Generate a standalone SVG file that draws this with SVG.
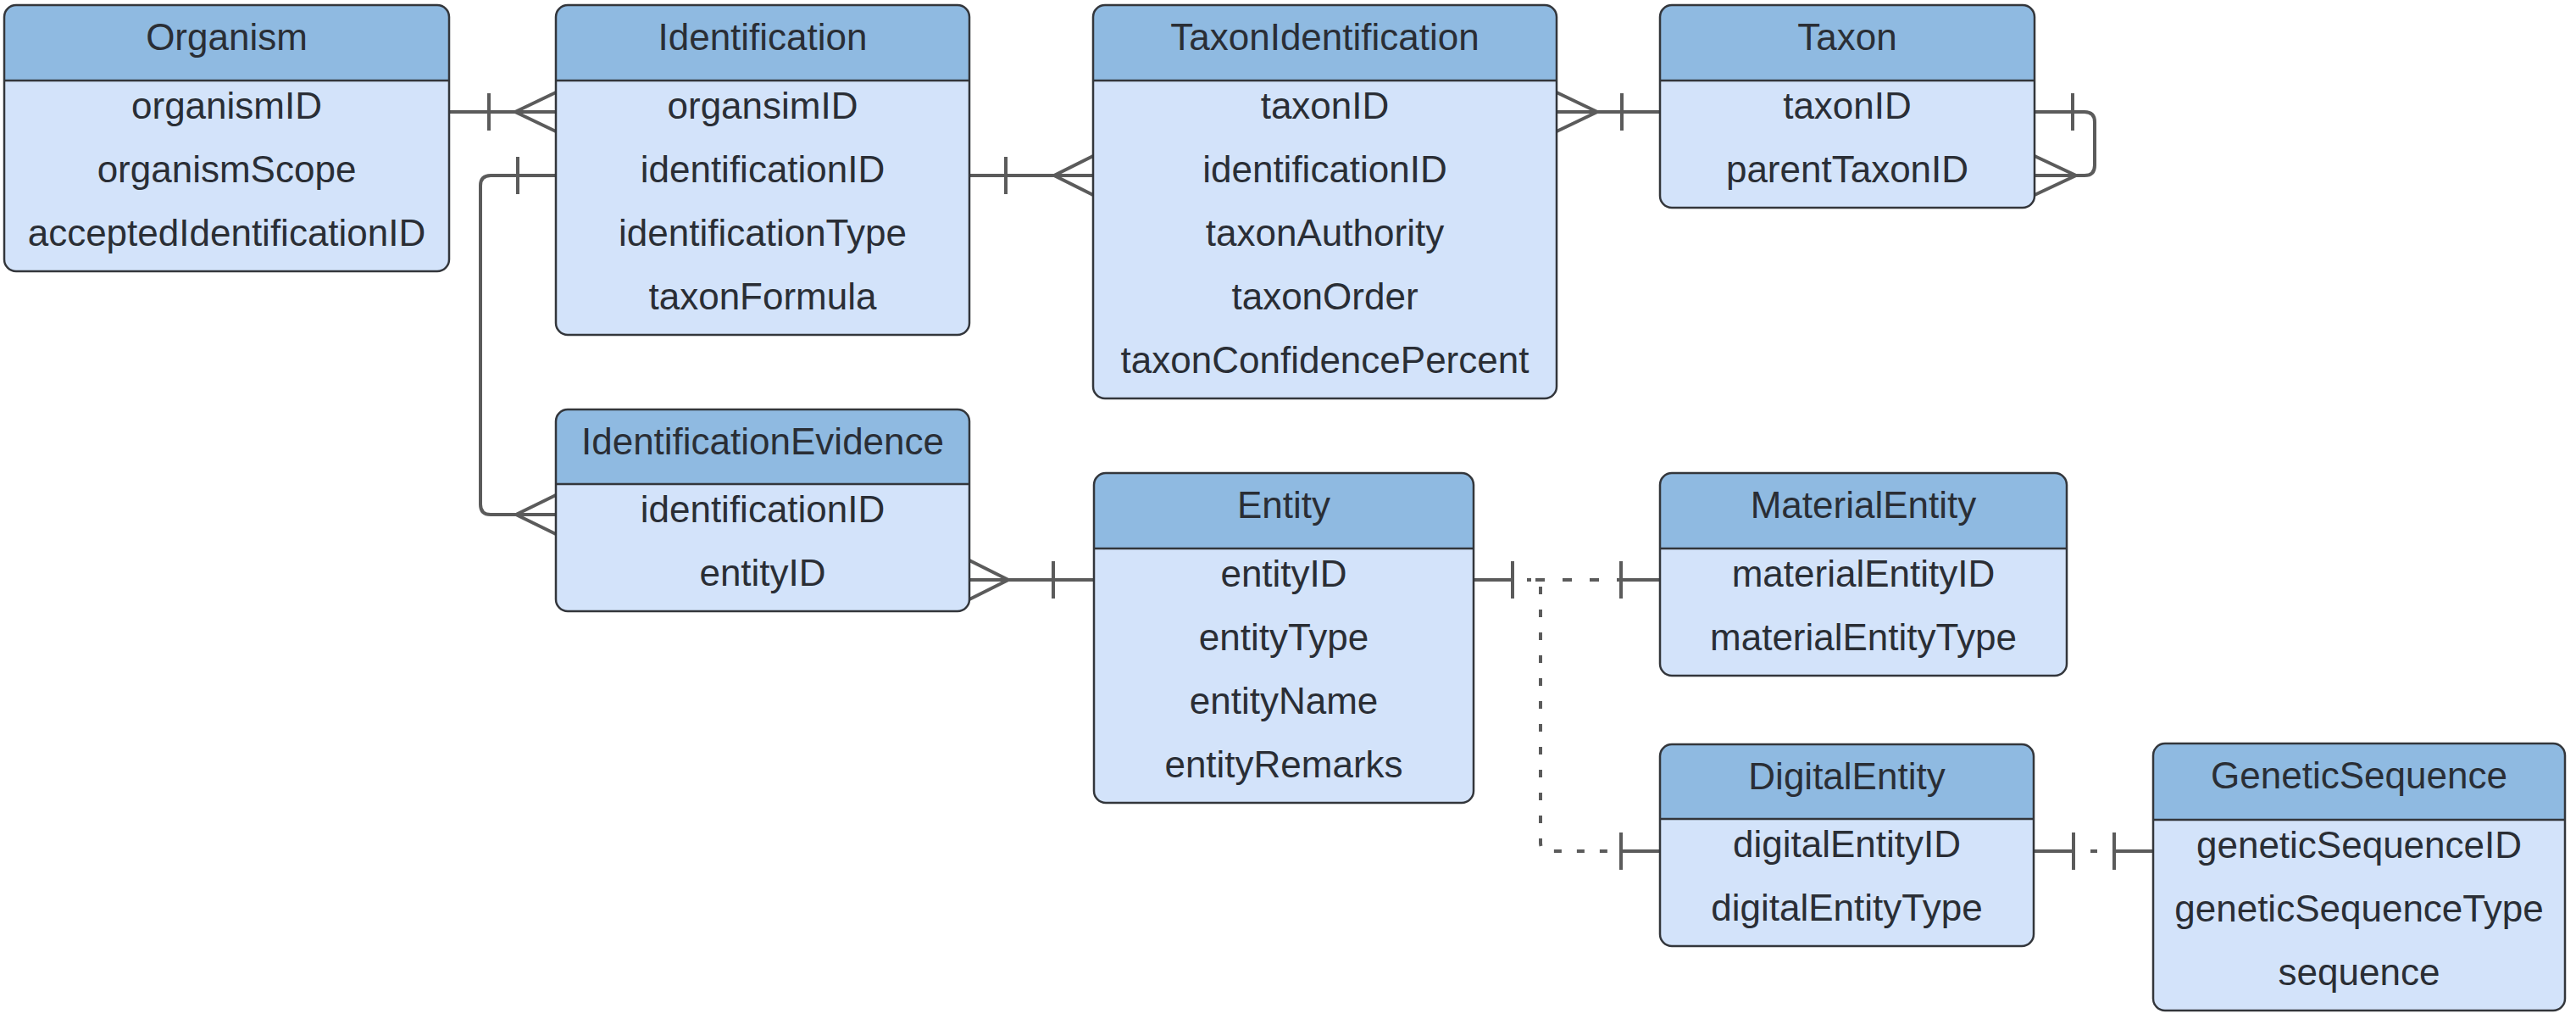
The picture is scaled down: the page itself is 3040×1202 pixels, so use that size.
<svg xmlns="http://www.w3.org/2000/svg" width="3040" height="1202" viewBox="0 0 3040 1202">
<style>
.body{fill:#d3e3fa;stroke:none}
.hd{fill:#8fbae1;stroke:none}
.frame{fill:none;stroke:#33363b;stroke-width:2.5}
.sep{stroke:#33363b;stroke-width:2.5}
text{font-family:"Liberation Sans",Arial,sans-serif;font-size:44px;fill:#2a2e35;text-anchor:middle}
.c{fill:none;stroke:#5b5b5b;stroke-width:4;stroke-linejoin:round}
.d{fill:none;stroke:#5b5b5b;stroke-width:4}
</style>
<rect width="3040" height="1202" fill="#ffffff"/>

<g id="connectors">
  <!-- Organism - Identification -->
  <path class="c" d="M530,132 H656 M577,110 V154 M656,109 L608,132 L656,155"/>
  <!-- Identification - IdentificationEvidence -->
  <path class="c" d="M656,207 H579 Q567,207 567,219 V595 Q567,607 579,607 H656 M611,185 V229 M656,584 L609,607 L656,630"/>
  <!-- Identification - TaxonIdentification -->
  <path class="c" d="M1144,207 H1290 M1187,185 V229 M1290,184 L1244,207 L1290,230"/>
  <!-- TaxonIdentification - Taxon -->
  <path class="c" d="M1837,132 H1959 M1837,109 L1885,132 L1837,155 M1914,110 V154"/>
  <!-- Taxon self -->
  <path class="c" d="M2401,132 H2460 Q2472,132 2472,144 V195 Q2472,207 2460,207 H2401 M2446,110 V154 M2401,184 L2450,207 L2401,230"/>
  <!-- IdentificationEvidence - Entity -->
  <path class="c" d="M1144,684 H1291 M1144,661 L1190,684 L1144,707 M1243,662 V706"/>
  <!-- Entity - MaterialEntity -->
  <path class="c" d="M1739,684 H1785 M1785,662 V706 M1913,662 V706 M1913,684 H1959"/>
  <path class="d" stroke-dasharray="11 21" d="M1812,684 H1913"/>
  <path class="d" d="M1802,684 H1807"/>
  <!-- Entity - DigitalEntity -->
  <path class="d" stroke-dasharray="9 18" d="M1818,692 V994 Q1818,1004 1828,1004 H1913"/>
  <path class="c" d="M1913,982 V1026 M1913,1004 H1959"/>
  <!-- DigitalEntity - GeneticSequence -->
  <path class="c" d="M2400,1004 H2447 M2447,982 V1026 M2495,982 V1026 M2495,1004 H2541"/>
  <path class="d" d="M2467,1004 H2475"/>
</g>

<g id="organism">
  <rect class="body" x="5" y="6" width="525" height="314" rx="14"/>
  <path class="hd" d="M5,95 V20 A14,14 0 0 1 19,6 H516 A14,14 0 0 1 530,20 V95 Z"/>
  <line class="sep" x1="5" y1="95" x2="530" y2="95"/>
  <rect class="frame" x="5" y="6" width="525" height="314" rx="14"/>
  <text x="267.5" y="59">Organism</text>
  <text x="267.5" y="140">organismID</text>
  <text x="267.5" y="215">organismScope</text>
  <text x="267.5" y="290">acceptedIdentificationID</text>
</g>

<g id="identification">
  <rect class="body" x="656" y="6" width="488" height="389" rx="14"/>
  <path class="hd" d="M656,95 V20 A14,14 0 0 1 670,6 H1130 A14,14 0 0 1 1144,20 V95 Z"/>
  <line class="sep" x1="656" y1="95" x2="1144" y2="95"/>
  <rect class="frame" x="656" y="6" width="488" height="389" rx="14"/>
  <text x="900" y="59">Identification</text>
  <text x="900" y="140">organsimID</text>
  <text x="900" y="215">identificationID</text>
  <text x="900" y="290">identificationType</text>
  <text x="900" y="365">taxonFormula</text>
</g>

<g id="taxonIdentification">
  <rect class="body" x="1290" y="6" width="547" height="464" rx="14"/>
  <path class="hd" d="M1290,95 V20 A14,14 0 0 1 1304,6 H1823 A14,14 0 0 1 1837,20 V95 Z"/>
  <line class="sep" x1="1290" y1="95" x2="1837" y2="95"/>
  <rect class="frame" x="1290" y="6" width="547" height="464" rx="14"/>
  <text x="1563.5" y="59">TaxonIdentification</text>
  <text x="1563.5" y="140">taxonID</text>
  <text x="1563.5" y="215">identificationID</text>
  <text x="1563.5" y="290">taxonAuthority</text>
  <text x="1563.5" y="365">taxonOrder</text>
  <text x="1563.5" y="440">taxonConfidencePercent</text>
</g>

<g id="taxon">
  <rect class="body" x="1959" y="6" width="442" height="239" rx="14"/>
  <path class="hd" d="M1959,95 V20 A14,14 0 0 1 1973,6 H2387 A14,14 0 0 1 2401,20 V95 Z"/>
  <line class="sep" x1="1959" y1="95" x2="2401" y2="95"/>
  <rect class="frame" x="1959" y="6" width="442" height="239" rx="14"/>
  <text x="2180" y="59">Taxon</text>
  <text x="2180" y="140">taxonID</text>
  <text x="2180" y="215">parentTaxonID</text>
</g>

<g id="identificationEvidence">
  <rect class="body" x="656" y="483" width="488" height="238" rx="14"/>
  <path class="hd" d="M656,571 V497 A14,14 0 0 1 670,483 H1130 A14,14 0 0 1 1144,497 V571 Z"/>
  <line class="sep" x1="656" y1="571" x2="1144" y2="571"/>
  <rect class="frame" x="656" y="483" width="488" height="238" rx="14"/>
  <text x="900" y="536">IdentificationEvidence</text>
  <text x="900" y="616">identificationID</text>
  <text x="900" y="691">entityID</text>
</g>

<g id="entity">
  <rect class="body" x="1291" y="558" width="448" height="389" rx="14"/>
  <path class="hd" d="M1291,647 V572 A14,14 0 0 1 1305,558 H1725 A14,14 0 0 1 1739,572 V647 Z"/>
  <line class="sep" x1="1291" y1="647" x2="1739" y2="647"/>
  <rect class="frame" x="1291" y="558" width="448" height="389" rx="14"/>
  <text x="1515" y="611">Entity</text>
  <text x="1515" y="692">entityID</text>
  <text x="1515" y="767">entityType</text>
  <text x="1515" y="842">entityName</text>
  <text x="1515" y="917">entityRemarks</text>
</g>

<g id="materialEntity">
  <rect class="body" x="1959" y="558" width="480" height="239" rx="14"/>
  <path class="hd" d="M1959,647 V572 A14,14 0 0 1 1973,558 H2425 A14,14 0 0 1 2439,572 V647 Z"/>
  <line class="sep" x1="1959" y1="647" x2="2439" y2="647"/>
  <rect class="frame" x="1959" y="558" width="480" height="239" rx="14"/>
  <text x="2199" y="611">MaterialEntity</text>
  <text x="2199" y="692">materialEntityID</text>
  <text x="2199" y="767">materialEntityType</text>
</g>

<g id="digitalEntity">
  <rect class="body" x="1959" y="878" width="441" height="238" rx="14"/>
  <path class="hd" d="M1959,966 V892 A14,14 0 0 1 1973,878 H2386 A14,14 0 0 1 2400,892 V966 Z"/>
  <line class="sep" x1="1959" y1="966" x2="2400" y2="966"/>
  <rect class="frame" x="1959" y="878" width="441" height="238" rx="14"/>
  <text x="2179.5" y="931">DigitalEntity</text>
  <text x="2179.5" y="1011">digitalEntityID</text>
  <text x="2179.5" y="1086">digitalEntityType</text>
</g>

<g id="geneticSequence">
  <rect class="body" x="2541" y="877" width="486" height="315" rx="14"/>
  <path class="hd" d="M2541,967 V891 A14,14 0 0 1 2555,877 H3013 A14,14 0 0 1 3027,891 V967 Z"/>
  <line class="sep" x1="2541" y1="967" x2="3027" y2="967"/>
  <rect class="frame" x="2541" y="877" width="486" height="315" rx="14"/>
  <text x="2784" y="930">GeneticSequence</text>
  <text x="2784" y="1012">geneticSequenceID</text>
  <text x="2784" y="1087">geneticSequenceType</text>
  <text x="2784" y="1162">sequence</text>
</g>
</svg>
